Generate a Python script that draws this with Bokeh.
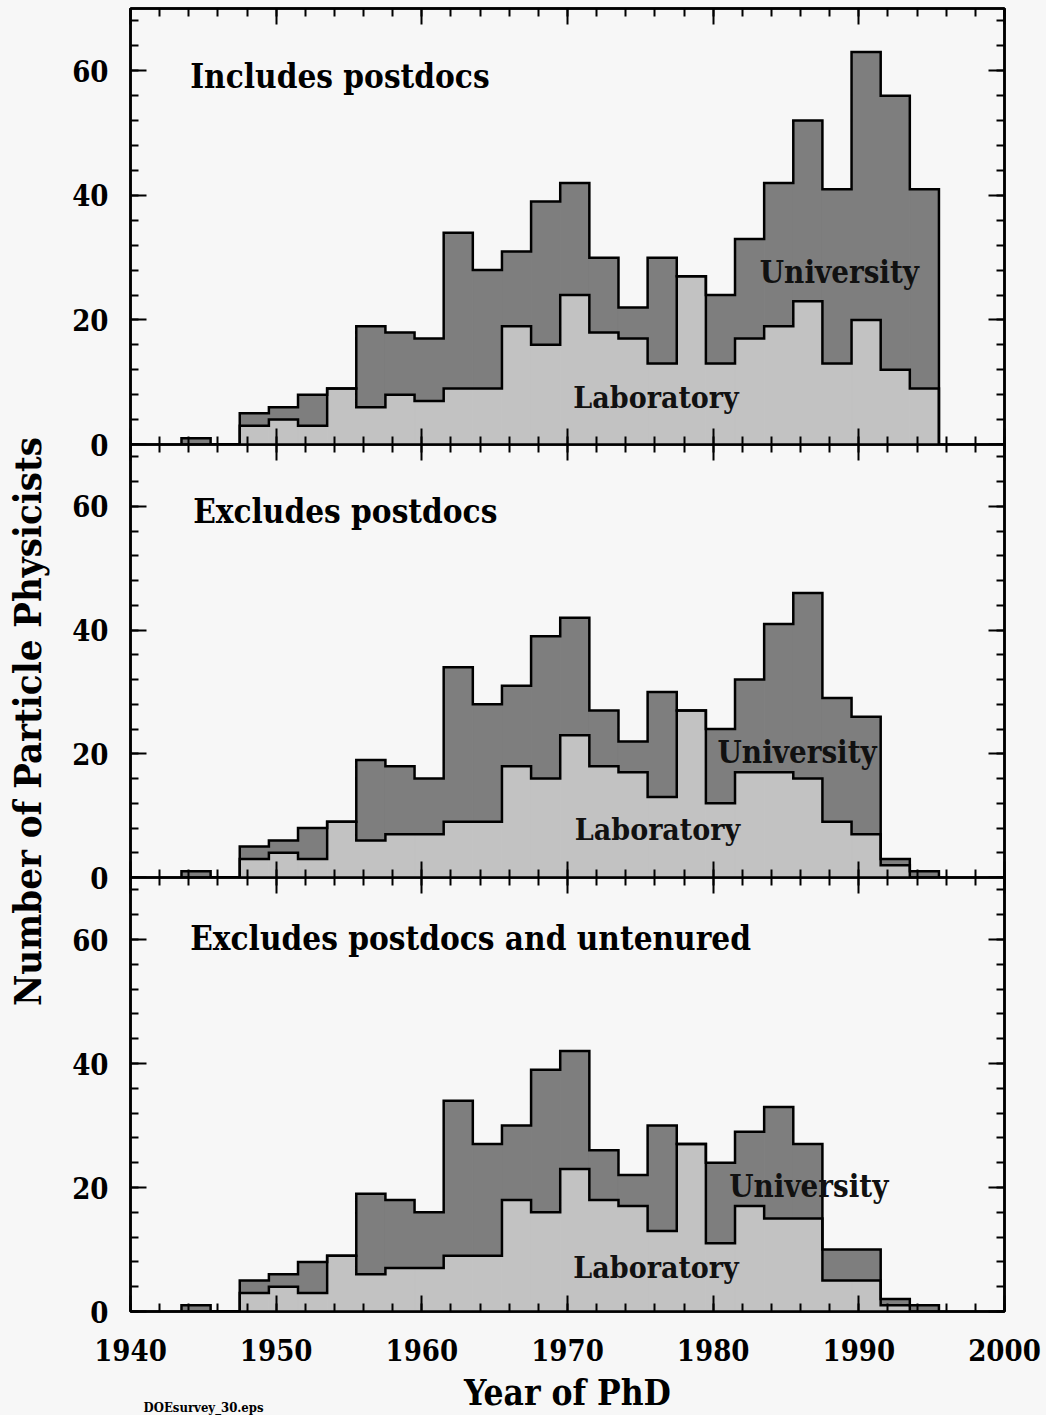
import math
from bokeh.plotting import figure
from bokeh.layouts import column, row
from bokeh.models import Range1d, LinearAxis, SingleIntervalTicker, Label, CustomLabelingPolicy
from bokeh.embed import file_html
from bokeh.resources import INLINE

# ---------------- data ----------------
BIN_LEFT = [1943.5, 1945.5, 1947.5, 1949.5, 1951.5, 1953.5, 1955.5, 1957.5, 1959.5,
            1961.5, 1963.5, 1965.5, 1967.5, 1969.5, 1971.5, 1973.5, 1975.5, 1977.5,
            1979.5, 1981.5, 1983.5, 1985.5, 1987.5, 1989.5, 1991.5, 1993.5]
BIN_WIDTH = 2.0

PANEL_TITLES = ["Includes postdocs", "Excludes postdocs", "Excludes postdocs and untenured"]

LAB_INCL = [0, 0, 3, 4, 3, 9, 6, 8, 7, 9, 9, 19, 16, 24, 18, 17, 13, 27, 13, 17, 19, 23, 13, 20, 12, 9]
UNI_INCL = [1, 0, 2, 2, 5, 0, 13, 10, 10, 25, 19, 12, 23, 18, 12, 5, 17, 0, 11, 16, 23, 29, 28, 43, 44, 32]

LAB_EXCL = [0, 0, 3, 4, 3, 9, 6, 7, 7, 9, 9, 18, 16, 23, 18, 17, 13, 27, 12, 17, 17, 16, 9, 7, 2, 0]
UNI_EXCL = [1, 0, 2, 2, 5, 0, 13, 11, 9, 25, 19, 13, 23, 19, 9, 5, 17, 0, 12, 15, 24, 30, 20, 19, 1, 1]

LAB_TEN = [0, 0, 3, 4, 3, 9, 6, 7, 7, 9, 9, 18, 16, 23, 18, 17, 13, 27, 11, 17, 15, 15, 5, 5, 1, 0]
UNI_TEN = [1, 0, 2, 2, 5, 0, 13, 11, 9, 25, 18, 12, 23, 19, 8, 5, 17, 0, 13, 12, 18, 12, 5, 5, 1, 1]

# ---------------- style ----------------
FONT = "DejaVu Serif Condensed, DejaVu Serif, serif"
BG = "#f7f7f7"
LAB_COLOR = "#c2c2c2"
UNI_COLOR = "#7e7e7e"
FRAME_W = 874
FRAME_H = [436, 433, 434]
SIDE_W = 58
BORDER_LEFT = 72
BORDER_RIGHT = 42
BORDER_TOP = 8
OVERLAP = 18          # lets the shared "0" tick labels straddle two panels
BORDER_BOTTOM = 104
STRIP_H = 22
TITLE_POS = [(1944.1, 59.1), (1944.3, 59.1), (1944.1, 60.2)]
UNI_POS = [(1983.2, 27.7), (1980.3, 20.3), (1981.1, 20.3)]
LAB_POS = [(1970.4, 7.6), (1970.5, 7.8), (1970.4, 7.1)]


def step_path(left, width, heights):
    xs, ys = [], []
    prev = 0
    for l, h in zip(left, heights):
        xs += [l, l, l + width]
        ys += [prev, h, h]
        prev = h
    xs.append(left[-1] + width)
    ys.append(0)
    return xs, ys


def style_axis(ax, interval, labels):
    ax.ticker = SingleIntervalTicker(interval=interval, num_minor_ticks=5)
    ax.axis_line_width = 2.5
    ax.axis_line_color = "black"
    ax.major_tick_in = 16
    ax.major_tick_out = 0
    ax.minor_tick_in = 8
    ax.minor_tick_out = 0
    ax.major_tick_line_width = 2
    ax.minor_tick_line_width = 2
    ax.major_tick_line_color = "black"
    ax.minor_tick_line_color = "black"
    ax.major_label_text_font = FONT
    ax.major_label_text_font_style = "bold"
    ax.major_label_text_color = "black"
    if labels:
        ax.major_label_text_font_size = "29px"
    else:
        ax.major_label_policy = CustomLabelingPolicy(code="return []")
        ax.major_label_text_font_size = "0px"
        ax.major_label_standoff = 0


def text_label(x, y, text, size, **kw):
    return Label(x=x, y=y, text=text, text_font=FONT, text_font_style="bold",
                 text_font_size=size, text_color=kw.pop("color", "black"),
                 text_baseline=kw.pop("baseline", "middle"), **kw)


def bare_figure(fw, fh, xr, **kw):
    f = figure(frame_width=fw, frame_height=fh, x_range=xr, y_range=Range1d(0, 1),
               output_backend="svg", toolbar_location=None,
               x_axis_location=None, y_axis_location=None,
               background_fill_color=None, border_fill_color=None, **kw)
    f.xgrid.visible = False
    f.ygrid.visible = False
    f.outline_line_color = None
    return f


def make_panel(i, lab, uni):
    is_top = i == 0
    is_bottom = i == 2
    p = figure(frame_width=FRAME_W, frame_height=FRAME_H[i],
               x_range=Range1d(1940, 2000), y_range=Range1d(0, 70),
               output_backend="svg", toolbar_location=None,
               x_axis_location=None, y_axis_location=None,
               min_border_left=BORDER_LEFT, min_border_right=BORDER_RIGHT,
               min_border_top=BORDER_TOP if is_top else 0,
               min_border_bottom=BORDER_BOTTOM if is_bottom else OVERLAP,
               background_fill_color=BG, border_fill_color=None,
               margin=(0, 0, 0, 0) if is_top else (-OVERLAP, 0, 0, 0))
    p.xgrid.visible = False
    p.ygrid.visible = False
    p.outline_line_color = "black"
    p.outline_line_width = 2.5

    left_ax = LinearAxis()
    style_axis(left_ax, 20, True)
    left_ax.major_label_standoff = 22
    p.add_layout(left_ax, "left")
    right_ax = LinearAxis()
    style_axis(right_ax, 20, False)
    p.add_layout(right_ax, "right")
    top_ax = LinearAxis()
    style_axis(top_ax, 10, False)
    p.add_layout(top_ax, "above")
    bot_ax = LinearAxis()
    style_axis(bot_ax, 10, is_bottom)
    if is_bottom:
        bot_ax.major_label_standoff = 27
        bot_ax.axis_label = "Year of PhD"
        bot_ax.axis_label_text_font = FONT
        bot_ax.axis_label_text_font_style = "bold"
        bot_ax.axis_label_text_font_size = "35px"
        bot_ax.axis_label_text_color = "black"
        bot_ax.axis_label_standoff = 8
    p.add_layout(bot_ax, "below")

    right = [l + BIN_WIDTH for l in BIN_LEFT]
    total = [a + b for a, b in zip(lab, uni)]
    p.quad(left=BIN_LEFT, right=right, bottom=0, top=lab,
           fill_color=LAB_COLOR, line_color=LAB_COLOR, line_width=1)
    p.quad(left=BIN_LEFT, right=right, bottom=lab, top=total,
           fill_color=UNI_COLOR, line_color=UNI_COLOR, line_width=1)
    for h in (lab, total):
        xs, ys = step_path(BIN_LEFT, BIN_WIDTH, h)
        p.line(xs, ys, line_color="black", line_width=2.5, line_join="miter")

    tx, ty = TITLE_POS[i]
    p.add_layout(text_label(tx, ty, PANEL_TITLES[i], "33px"))
    ux, uy = UNI_POS[i]
    p.add_layout(text_label(ux, uy, "University", "31px", color="#111111"))
    lx, ly = LAB_POS[i]
    p.add_layout(text_label(lx, ly, "Laboratory", "30px", color="#111111"))
    return p


panels = [make_panel(0, LAB_INCL, UNI_INCL),
          make_panel(1, LAB_EXCL, UNI_EXCL),
          make_panel(2, LAB_TEN, UNI_TEN)]

# thin transparent strip laid over the bottom border for the file-name note
strip = bare_figure(FRAME_W, STRIP_H, Range1d(1940, 2000),
                    min_border_left=BORDER_LEFT, min_border_right=BORDER_RIGHT,
                    min_border_top=0, min_border_bottom=0,
                    margin=(-STRIP_H, 0, 0, 0))
strip.add_layout(text_label(1940.9, 0.36, "DOEsurvey_30.eps", "13px"))

total_h = BORDER_TOP + sum(FRAME_H) + BORDER_BOTTOM
side = bare_figure(SIDE_W, total_h, Range1d(0, 1), min_border=0)
side.add_layout(text_label(27 / SIDE_W, 1 - 721 / total_h, "Number of Particle Physicists",
                           "38px", angle=math.pi / 2, text_align="center"))

layout = row(side, column(*panels, strip, spacing=0), spacing=0,
             styles={"background-color": BG})
open("out.html", "w").write(file_html(layout, INLINE))
